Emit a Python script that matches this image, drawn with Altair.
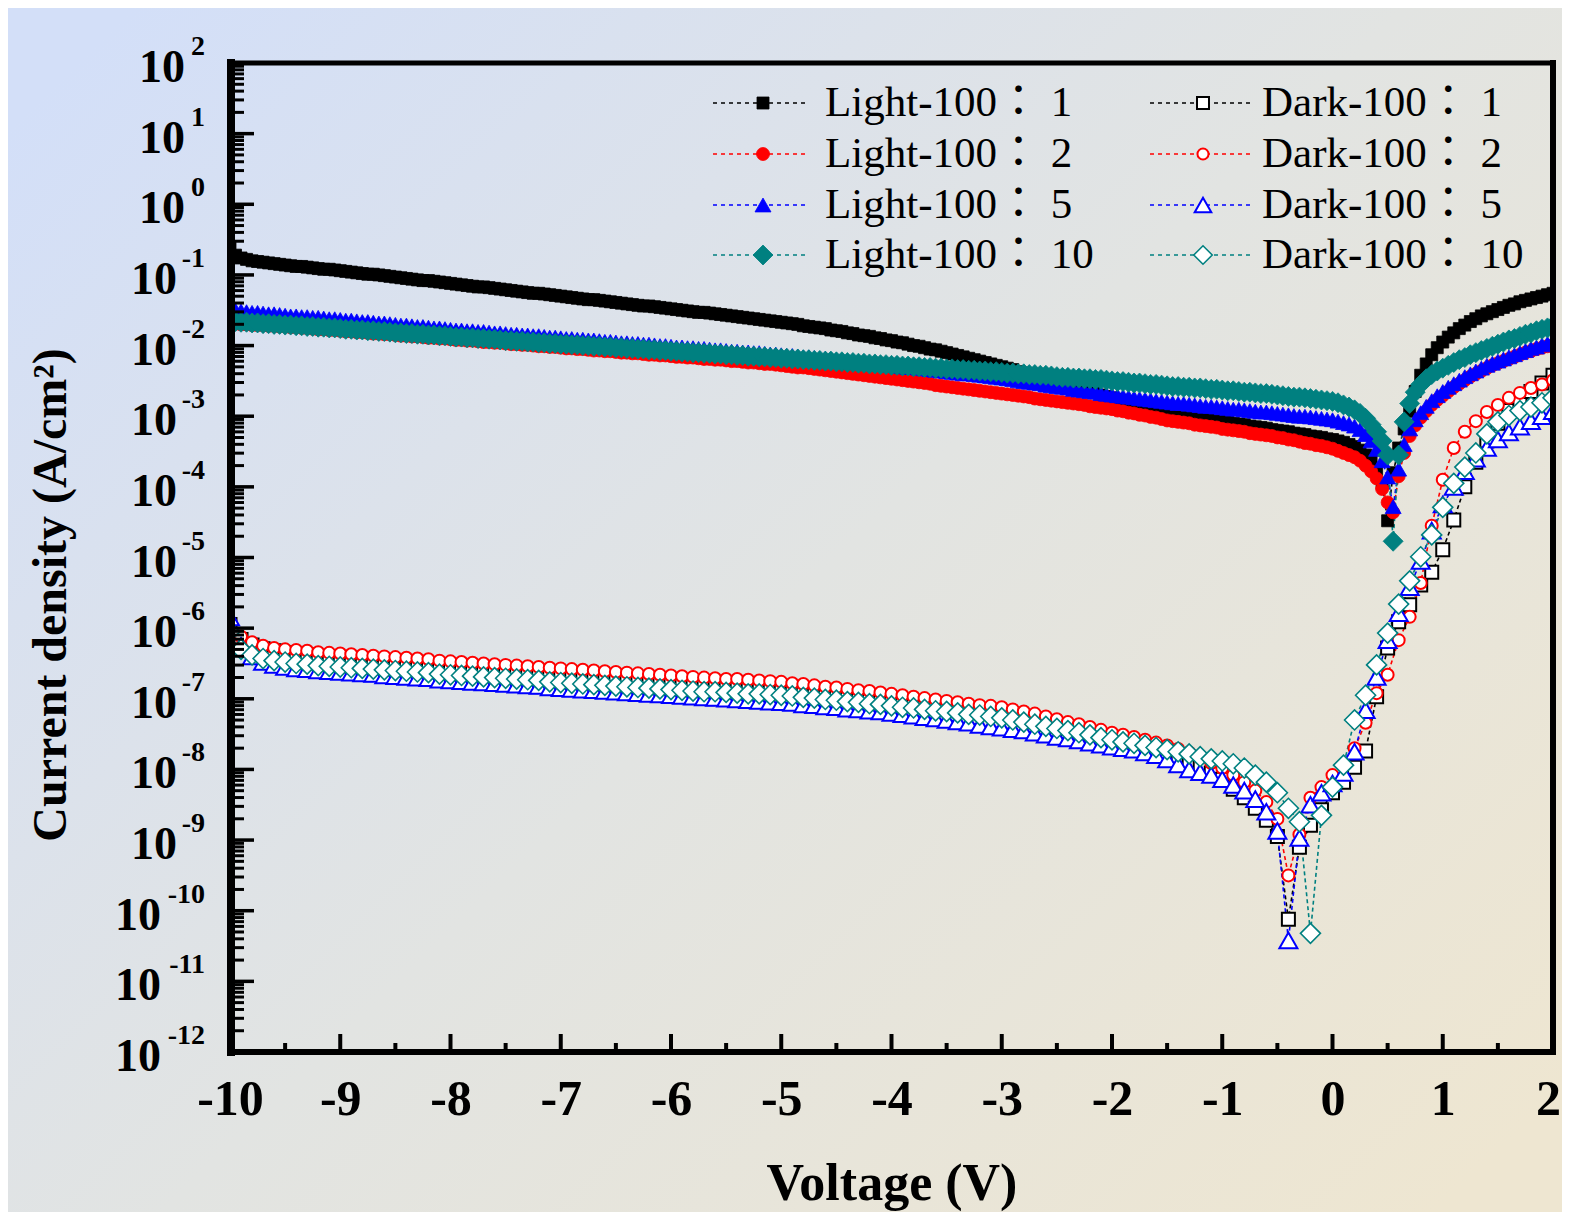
import altair as alt
import pandas as pd

# ---------------- data (log10 of current density, A/cm^2) ----------------
V_LIGHT = [round(-10 + 0.05 * i, 2) for i in range(241)]
V_DARK = [round(-10 + 0.1 * i, 1) for i in range(121)]

LOG_LIGHT_1 = [
    -0.62,
    -0.72, -0.76, -0.78, -0.80, -0.81, -0.82, -0.83, -0.84, -0.85, -0.86,
    -0.87, -0.88, -0.88, -0.89, -0.90, -0.91, -0.92, -0.92, -0.93, -0.94,
    -0.95, -0.96, -0.97, -0.98, -0.99, -0.99, -1.00, -1.01, -1.02, -1.03,
    -1.04, -1.05, -1.06, -1.07, -1.08, -1.08, -1.09, -1.10, -1.11, -1.12,
    -1.13, -1.14, -1.15, -1.16, -1.17, -1.17, -1.18, -1.19, -1.20, -1.21,
    -1.22, -1.23, -1.24, -1.25, -1.26, -1.26, -1.27, -1.28, -1.29, -1.30,
    -1.31, -1.32, -1.33, -1.34, -1.35, -1.35, -1.36, -1.37, -1.38, -1.39,
    -1.40, -1.41, -1.42, -1.43, -1.44, -1.44, -1.45, -1.46, -1.47, -1.48,
    -1.49, -1.50, -1.51, -1.52, -1.53, -1.53, -1.54, -1.55, -1.56, -1.57,
    -1.58, -1.59, -1.60, -1.61, -1.62, -1.63, -1.64, -1.65, -1.66, -1.67,
    -1.68, -1.69, -1.70, -1.72, -1.73, -1.74, -1.75, -1.76, -1.78, -1.79,
    -1.80, -1.82, -1.83, -1.85, -1.86, -1.87, -1.89, -1.90, -1.92, -1.93,
    -1.95, -1.96, -1.98, -2.00, -2.01, -2.03, -2.05, -2.06, -2.08, -2.10,
    -2.12, -2.14, -2.16, -2.18, -2.20, -2.22, -2.24, -2.26, -2.28, -2.30,
    -2.32, -2.34, -2.37, -2.39, -2.41, -2.43, -2.45, -2.48, -2.50, -2.52,
    -2.54, -2.56, -2.59, -2.61, -2.63, -2.65, -2.67, -2.70, -2.72, -2.74,
    -2.76, -2.78, -2.80, -2.82, -2.84, -2.85, -2.87, -2.89, -2.91, -2.93,
    -2.94, -2.96, -2.97, -2.99, -3.00, -3.01, -3.03, -3.04, -3.06, -3.07,
    -3.08, -3.10, -3.11, -3.12, -3.14, -3.15, -3.16, -3.17, -3.19, -3.20,
    -3.21, -3.22, -3.24, -3.25, -3.26, -3.28, -3.29, -3.30, -3.32, -3.33,
    -3.35, -3.37, -3.40, -3.43, -3.48, -3.55, -3.64, -3.76, -3.95, -4.48,
    -3.80, -3.45, -3.18, -2.93, -2.65, -2.42, -2.26, -2.13, -2.03, -1.95,
    -1.88, -1.82, -1.76, -1.71, -1.66, -1.62, -1.58, -1.55, -1.52, -1.49,
    -1.46, -1.43, -1.41, -1.38, -1.36, -1.34, -1.32, -1.30, -1.28, -1.26,
]

LOG_LIGHT_2 = [
    -1.69,
    -1.69, -1.70, -1.70, -1.71, -1.71, -1.71, -1.72, -1.72, -1.73, -1.73,
    -1.74, -1.74, -1.75, -1.75, -1.76, -1.77, -1.77, -1.78, -1.78, -1.79,
    -1.80, -1.80, -1.81, -1.81, -1.82, -1.83, -1.83, -1.84, -1.84, -1.85,
    -1.86, -1.86, -1.87, -1.87, -1.88, -1.89, -1.89, -1.90, -1.90, -1.91,
    -1.92, -1.92, -1.93, -1.93, -1.94, -1.95, -1.95, -1.96, -1.96, -1.97,
    -1.98, -1.98, -1.99, -1.99, -2.00, -2.01, -2.01, -2.02, -2.02, -2.03,
    -2.04, -2.04, -2.05, -2.05, -2.06, -2.07, -2.07, -2.08, -2.08, -2.09,
    -2.10, -2.10, -2.11, -2.11, -2.12, -2.13, -2.13, -2.14, -2.14, -2.15,
    -2.16, -2.16, -2.17, -2.17, -2.18, -2.19, -2.19, -2.20, -2.20, -2.21,
    -2.22, -2.22, -2.23, -2.24, -2.24, -2.25, -2.26, -2.26, -2.27, -2.28,
    -2.29, -2.30, -2.31, -2.31, -2.32, -2.33, -2.34, -2.35, -2.36, -2.37,
    -2.38, -2.39, -2.40, -2.41, -2.42, -2.43, -2.44, -2.45, -2.46, -2.47,
    -2.48, -2.49, -2.50, -2.51, -2.52, -2.53, -2.54, -2.56, -2.57, -2.58,
    -2.59, -2.60, -2.61, -2.62, -2.63, -2.64, -2.65, -2.66, -2.67, -2.68,
    -2.69, -2.70, -2.71, -2.72, -2.73, -2.75, -2.76, -2.77, -2.78, -2.79,
    -2.80, -2.81, -2.82, -2.83, -2.84, -2.86, -2.87, -2.88, -2.89, -2.90,
    -2.92, -2.93, -2.95, -2.96, -2.98, -2.99, -3.01, -3.02, -3.04, -3.06,
    -3.07, -3.08, -3.09, -3.10, -3.12, -3.13, -3.14, -3.15, -3.16, -3.18,
    -3.19, -3.20, -3.21, -3.22, -3.24, -3.25, -3.26, -3.27, -3.28, -3.30,
    -3.31, -3.33, -3.34, -3.36, -3.38, -3.39, -3.41, -3.42, -3.44, -3.46,
    -3.49, -3.52, -3.55, -3.58, -3.63, -3.70, -3.78, -3.88, -4.03, -4.22,
    -4.36, -3.85, -3.52, -3.28, -3.13, -3.02, -2.93, -2.84, -2.77, -2.71,
    -2.65, -2.59, -2.54, -2.49, -2.44, -2.40, -2.36, -2.32, -2.28, -2.25,
    -2.22, -2.19, -2.16, -2.13, -2.10, -2.08, -2.05, -2.03, -2.01, -1.99,
]

LOG_LIGHT_5 = [
    -1.48,
    -1.50, -1.51, -1.52, -1.53, -1.53, -1.54, -1.55, -1.55, -1.56, -1.57,
    -1.58, -1.58, -1.59, -1.59, -1.60, -1.60, -1.61, -1.62, -1.62, -1.63,
    -1.64, -1.64, -1.65, -1.66, -1.66, -1.67, -1.68, -1.68, -1.69, -1.70,
    -1.71, -1.71, -1.72, -1.73, -1.73, -1.74, -1.75, -1.75, -1.76, -1.77,
    -1.78, -1.78, -1.79, -1.79, -1.80, -1.80, -1.81, -1.82, -1.82, -1.83,
    -1.84, -1.84, -1.85, -1.85, -1.86, -1.86, -1.87, -1.88, -1.88, -1.89,
    -1.90, -1.90, -1.91, -1.91, -1.92, -1.92, -1.93, -1.94, -1.94, -1.95,
    -1.96, -1.96, -1.97, -1.97, -1.98, -1.98, -1.99, -2.00, -2.00, -2.01,
    -2.02, -2.02, -2.03, -2.03, -2.04, -2.04, -2.05, -2.06, -2.06, -2.07,
    -2.08, -2.08, -2.09, -2.09, -2.10, -2.10, -2.11, -2.12, -2.12, -2.13,
    -2.14, -2.14, -2.15, -2.16, -2.16, -2.17, -2.18, -2.18, -2.19, -2.20,
    -2.21, -2.22, -2.22, -2.23, -2.24, -2.25, -2.26, -2.26, -2.27, -2.28,
    -2.29, -2.30, -2.31, -2.31, -2.32, -2.33, -2.34, -2.35, -2.36, -2.37,
    -2.38, -2.39, -2.40, -2.40, -2.41, -2.42, -2.43, -2.44, -2.45, -2.46,
    -2.47, -2.48, -2.50, -2.51, -2.52, -2.53, -2.54, -2.56, -2.57, -2.58,
    -2.59, -2.60, -2.62, -2.63, -2.64, -2.65, -2.66, -2.68, -2.69, -2.70,
    -2.71, -2.72, -2.73, -2.74, -2.75, -2.76, -2.77, -2.78, -2.79, -2.80,
    -2.81, -2.82, -2.82, -2.83, -2.84, -2.85, -2.86, -2.86, -2.87, -2.88,
    -2.89, -2.90, -2.90, -2.91, -2.92, -2.93, -2.94, -2.94, -2.95, -2.96,
    -2.97, -2.98, -2.99, -3.00, -3.00, -3.01, -3.02, -3.03, -3.04, -3.05,
    -3.07, -3.09, -3.11, -3.14, -3.19, -3.26, -3.35, -3.47, -3.63, -3.86,
    -4.28, -3.75, -3.40, -3.18, -3.05, -2.95, -2.86, -2.78, -2.71, -2.65,
    -2.59, -2.54, -2.49, -2.44, -2.40, -2.36, -2.32, -2.28, -2.25, -2.22,
    -2.19, -2.16, -2.13, -2.10, -2.07, -2.04, -2.02, -1.99, -1.97, -1.94,
]

LOG_LIGHT_10 = [
    -1.66,
    -1.66, -1.67, -1.67, -1.68, -1.68, -1.69, -1.69, -1.70, -1.70, -1.71,
    -1.71, -1.72, -1.72, -1.73, -1.73, -1.74, -1.74, -1.75, -1.75, -1.76,
    -1.77, -1.77, -1.78, -1.78, -1.79, -1.79, -1.80, -1.80, -1.81, -1.82,
    -1.82, -1.83, -1.83, -1.84, -1.84, -1.85, -1.85, -1.86, -1.86, -1.87,
    -1.88, -1.88, -1.89, -1.89, -1.90, -1.90, -1.91, -1.91, -1.92, -1.93,
    -1.93, -1.94, -1.94, -1.95, -1.95, -1.96, -1.96, -1.97, -1.97, -1.98,
    -1.98, -1.99, -1.99, -2.00, -2.00, -2.01, -2.01, -2.02, -2.02, -2.03,
    -2.03, -2.04, -2.04, -2.05, -2.05, -2.06, -2.06, -2.07, -2.07, -2.08,
    -2.08, -2.09, -2.09, -2.10, -2.10, -2.11, -2.11, -2.12, -2.12, -2.13,
    -2.13, -2.14, -2.14, -2.15, -2.15, -2.16, -2.16, -2.17, -2.17, -2.18,
    -2.18, -2.19, -2.19, -2.20, -2.20, -2.21, -2.21, -2.22, -2.22, -2.23,
    -2.23, -2.24, -2.24, -2.25, -2.25, -2.26, -2.26, -2.27, -2.27, -2.28,
    -2.28, -2.29, -2.29, -2.30, -2.30, -2.31, -2.31, -2.32, -2.32, -2.33,
    -2.33, -2.34, -2.34, -2.35, -2.35, -2.36, -2.36, -2.37, -2.37, -2.38,
    -2.39, -2.39, -2.40, -2.40, -2.41, -2.41, -2.42, -2.42, -2.43, -2.44,
    -2.45, -2.45, -2.46, -2.46, -2.47, -2.47, -2.48, -2.48, -2.49, -2.50,
    -2.51, -2.51, -2.52, -2.53, -2.53, -2.54, -2.55, -2.55, -2.56, -2.57,
    -2.58, -2.58, -2.59, -2.59, -2.60, -2.60, -2.61, -2.62, -2.62, -2.63,
    -2.64, -2.64, -2.65, -2.66, -2.66, -2.67, -2.68, -2.68, -2.69, -2.70,
    -2.71, -2.72, -2.73, -2.73, -2.74, -2.75, -2.76, -2.77, -2.78, -2.79,
    -2.81, -2.84, -2.87, -2.91, -2.96, -3.03, -3.12, -3.22, -3.35, -3.55,
    -4.77, -3.55, -3.08, -2.82, -2.66, -2.55, -2.47, -2.41, -2.36, -2.32,
    -2.28, -2.24, -2.20, -2.17, -2.13, -2.10, -2.07, -2.04, -2.01, -1.98,
    -1.95, -1.92, -1.90, -1.87, -1.84, -1.82, -1.79, -1.77, -1.75, -1.72,
]

LOG_DARK_1 = [
    -5.95, -6.16, -6.24, -6.29, -6.32, -6.35, -6.37, -6.38, -6.40, -6.41, -6.42,
    -6.43, -6.44, -6.45, -6.46, -6.47, -6.48, -6.49, -6.50, -6.52, -6.53,
    -6.54, -6.55, -6.56, -6.57, -6.58, -6.59, -6.60, -6.61, -6.63, -6.64,
    -6.65, -6.66, -6.67, -6.68, -6.69, -6.70, -6.71, -6.72, -6.74, -6.75,
    -6.76, -6.77, -6.78, -6.79, -6.80, -6.81, -6.82, -6.83, -6.85, -6.86,
    -6.87, -6.89, -6.90, -6.92, -6.93, -6.95, -6.96, -6.98, -7.00, -7.02,
    -7.04, -7.06, -7.08, -7.10, -7.12, -7.14, -7.16, -7.18, -7.20, -7.22,
    -7.25, -7.29, -7.32, -7.36, -7.39, -7.42, -7.46, -7.49, -7.53, -7.56,
    -7.59, -7.62, -7.67, -7.72, -7.78, -7.84, -7.90, -7.96, -8.05, -8.14,
    -8.28, -8.40, -8.55, -8.72, -8.95, -10.12, -9.10, -8.79, -8.57, -8.33,
    -8.18, -7.97, -7.74, -6.97, -6.28, -5.91, -5.67, -5.39, -5.21, -4.89,
    -4.47, -4.00, -3.65, -3.35, -3.10, -2.92, -2.78, -2.65, -2.53, -2.42,
]

LOG_DARK_2 = [
    -5.92, -6.12, -6.20, -6.25, -6.28, -6.30, -6.31, -6.32, -6.34, -6.35, -6.36,
    -6.37, -6.38, -6.39, -6.40, -6.41, -6.42, -6.43, -6.44, -6.46, -6.47,
    -6.48, -6.49, -6.50, -6.51, -6.52, -6.53, -6.54, -6.55, -6.56, -6.57,
    -6.58, -6.59, -6.60, -6.61, -6.62, -6.63, -6.64, -6.65, -6.66, -6.67,
    -6.68, -6.69, -6.70, -6.71, -6.72, -6.72, -6.73, -6.74, -6.75, -6.76,
    -6.78, -6.79, -6.81, -6.83, -6.84, -6.86, -6.88, -6.89, -6.91, -6.93,
    -6.95, -6.97, -6.99, -7.01, -7.03, -7.05, -7.07, -7.09, -7.10, -7.12,
    -7.15, -7.18, -7.21, -7.25, -7.29, -7.33, -7.36, -7.40, -7.44, -7.48,
    -7.51, -7.54, -7.58, -7.62, -7.66, -7.71, -7.76, -7.84, -7.91, -7.98,
    -8.08, -8.18, -8.30, -8.46, -8.70, -9.50, -8.92, -8.40, -8.25, -8.08,
    -7.95, -7.70, -7.34, -6.92, -6.66, -6.17, -5.84, -5.36, -4.55, -3.90,
    -3.45, -3.22, -3.07, -2.94, -2.84, -2.74, -2.67, -2.60, -2.55, -2.49,
]

LOG_DARK_5 = [
    -5.85, -6.25, -6.40, -6.48, -6.52, -6.55, -6.57, -6.58, -6.60, -6.61, -6.62,
    -6.63, -6.64, -6.65, -6.67, -6.68, -6.69, -6.70, -6.71, -6.73, -6.74,
    -6.75, -6.76, -6.77, -6.78, -6.79, -6.80, -6.81, -6.82, -6.84, -6.85,
    -6.86, -6.87, -6.88, -6.89, -6.90, -6.91, -6.92, -6.93, -6.94, -6.95,
    -6.96, -6.97, -6.98, -6.99, -7.00, -7.01, -7.02, -7.03, -7.04, -7.05,
    -7.06, -7.08, -7.09, -7.11, -7.12, -7.14, -7.15, -7.17, -7.18, -7.20,
    -7.22, -7.24, -7.26, -7.28, -7.30, -7.32, -7.34, -7.37, -7.39, -7.41,
    -7.43, -7.45, -7.48, -7.51, -7.54, -7.56, -7.59, -7.62, -7.65, -7.68,
    -7.70, -7.72, -7.76, -7.80, -7.86, -7.93, -8.00, -8.04, -8.08, -8.14,
    -8.22, -8.30, -8.42, -8.60, -8.87, -10.42, -8.97, -8.50, -8.33, -8.20,
    -8.05, -7.75, -7.16, -6.69, -6.17, -5.79, -5.42, -5.05, -4.62, -4.25,
    -4.00, -3.78, -3.60, -3.45, -3.33, -3.23, -3.15, -3.07, -3.00, -2.93,
]

LOG_DARK_10 = [
    -6.05, -6.30, -6.38, -6.43, -6.46, -6.48, -6.50, -6.51, -6.53, -6.54, -6.55,
    -6.56, -6.57, -6.58, -6.59, -6.60, -6.61, -6.62, -6.63, -6.65, -6.66,
    -6.67, -6.68, -6.69, -6.70, -6.71, -6.72, -6.73, -6.74, -6.76, -6.77,
    -6.78, -6.79, -6.80, -6.81, -6.82, -6.83, -6.84, -6.85, -6.86, -6.87,
    -6.88, -6.89, -6.90, -6.90, -6.91, -6.92, -6.93, -6.93, -6.94, -6.95,
    -6.96, -6.98, -6.99, -7.01, -7.02, -7.04, -7.05, -7.07, -7.08, -7.10,
    -7.12, -7.13, -7.15, -7.17, -7.18, -7.20, -7.22, -7.23, -7.25, -7.27,
    -7.30, -7.33, -7.36, -7.39, -7.42, -7.45, -7.48, -7.51, -7.55, -7.58,
    -7.61, -7.63, -7.66, -7.69, -7.72, -7.75, -7.78, -7.82, -7.85, -7.88,
    -7.92, -7.98, -8.08, -8.18, -8.33, -8.55, -8.74, -10.32, -8.65, -8.25,
    -7.94, -7.30, -6.95, -6.52, -6.07, -5.66, -5.33, -4.99, -4.68, -4.29,
    -3.95, -3.72, -3.52, -3.25, -3.08, -2.99, -2.92, -2.87, -2.81, -2.74,
]

LABELS_LIGHT = ["Light-100： 1", "Light-100： 2", "Light-100： 5", "Light-100： 10"]
LABELS_DARK = ["Dark-100： 1", "Dark-100： 2", "Dark-100： 5", "Dark-100： 10"]
COLORS = ["#000000", "#ff0000", "#0000ff", "#008080"]
SHAPES = ["square", "circle", "triangle-up", "diamond"]

X_TICKS = list(range(-10, 3))
X_MINOR = [t + 0.5 for t in range(-10, 2)]
Y_EXPONENTS = list(range(2, -13, -1))
Y_MINOR = [m * 10.0 ** e for e in range(-12, 2) for m in range(2, 10)]

for arr in (LOG_LIGHT_1, LOG_LIGHT_2, LOG_LIGHT_5, LOG_LIGHT_10):
    assert len(arr) == len(V_LIGHT), len(arr)
for arr in (LOG_DARK_1, LOG_DARK_2, LOG_DARK_5, LOG_DARK_10):
    assert len(arr) == len(V_DARK), len(arr)

# ---------------- layout / style ----------------
W, H = 1323, 989
PAD = {"left": 222, "top": 55, "right": 9, "bottom": 160}
SERIF = "Liberation Serif, Times New Roman, serif"
LEGFONT = "Liberation Serif, Noto Sans CJK TC, serif"

LIGHT_SIZES = [144, 169, 256, 400]
DARK_SIZES = [169, 144, 324, 400]
DARK_SW = [2, 2, 2, 1.6]

ONE = pd.DataFrame({"k": [0]})

x_scale = alt.Scale(domain=[-10, 2], nice=False, zero=False)
y_scale = alt.Scale(type="log", domain=[1e-12, 1e2], nice=False)
x_axis = alt.Axis(values=X_TICKS, labelExpr="'' + datum.value", ticks=False, domain=False,
                  grid=False, labelFont=SERIF, labelFontSize=50, labelFontWeight="bold",
                  labelColor="black", labelPadding=22, labelFlush=False, labelOverlap=False,
                  labelOffset={"condition": {"test": "datum.value === 2", "value": -5}, "value": 0},
                  title=None, zindex=2)


def xenc():
    return alt.X("V:Q", scale=x_scale, axis=x_axis)


def yenc():
    return alt.Y("J:Q", scale=y_scale, axis=None)


def sdf(v, logs):
    return pd.DataFrame({"V": v, "J": [10.0 ** a for a in logs]})


layers = []

# background gradient
grad = {"gradient": "linear", "x1": 0, "y1": 0.1, "x2": 1, "y2": 0.9,
        "stops": [{"offset": 0, "color": "#d3dff8"},
                  {"offset": 0.5, "color": "#e2e4e2"},
                  {"offset": 1, "color": "#eee6d1"}]}
layers.append(alt.Chart(ONE).mark_rect(fill=grad, strokeWidth=0).encode(
    x=alt.value(-PAD["left"]), x2=alt.value(W + PAD["right"]),
    y=alt.value(-PAD["top"]), y2=alt.value(H + PAD["bottom"])))

series = []
for i, lg in enumerate([LOG_LIGHT_1, LOG_LIGHT_2, LOG_LIGHT_5, LOG_LIGHT_10]):
    series.append(dict(df=sdf(V_LIGHT, lg), color=COLORS[i], shape=SHAPES[i],
                       size=LIGHT_SIZES[i], fill=COLORS[i], sw=0.8))
for i, lg in enumerate([LOG_DARK_1, LOG_DARK_2, LOG_DARK_5, LOG_DARK_10]):
    series.append(dict(df=sdf(V_DARK, lg), color=COLORS[i], shape=SHAPES[i],
                       size=DARK_SIZES[i], fill="white", sw=DARK_SW[i]))

# dashed connecting lines
for s in series:
    layers.append(alt.Chart(s["df"]).mark_line(
        stroke=s["color"], strokeWidth=1.6, strokeDash=[4, 3], clip=True).encode(
        x=xenc(), y=yenc(), order="V:Q"))
# markers
for s in series:
    layers.append(alt.Chart(s["df"]).mark_point(
        shape=s["shape"], size=s["size"], filled=True, fill=s["fill"], stroke=s["color"],
        strokeWidth=s["sw"], opacity=1, clip=True).encode(x=xenc(), y=yenc()))

# inward ticks
layers.append(alt.Chart(pd.DataFrame({"V": X_TICKS})).mark_rule(color="black", strokeWidth=4).encode(
    x=xenc(), y=alt.value(H), y2=alt.value(H - 18)))
layers.append(alt.Chart(pd.DataFrame({"V": X_MINOR})).mark_rule(color="black", strokeWidth=4).encode(
    x=xenc(), y=alt.value(H), y2=alt.value(H - 9)))
layers.append(alt.Chart(pd.DataFrame({"J": [10.0 ** e for e in Y_EXPONENTS]})).mark_rule(
    color="black", strokeWidth=3.5).encode(y=yenc(), x=alt.value(0), x2=alt.value(24)))
layers.append(alt.Chart(pd.DataFrame({"J": Y_MINOR})).mark_rule(
    color="black", strokeWidth=3).encode(y=yenc(), x=alt.value(0), x2=alt.value(14)))

# frame
layers.append(alt.Chart(ONE).mark_rule(color="black", strokeWidth=5, strokeCap="square").encode(
    x=alt.value(0), x2=alt.value(W), y=alt.value(0)))
layers.append(alt.Chart(ONE).mark_rule(color="black", strokeWidth=6, strokeCap="square").encode(
    x=alt.value(W), y=alt.value(0), y2=alt.value(H)))
layers.append(alt.Chart(ONE).mark_rule(color="black", strokeWidth=6, strokeCap="square").encode(
    x=alt.value(0), x2=alt.value(W), y=alt.value(H)))
layers.append(alt.Chart(ONE).mark_rule(color="black", strokeWidth=8, strokeCap="square").encode(
    x=alt.value(1), y=alt.value(0), y2=alt.value(H)))

# y tick labels: "10" + superscript exponent
groups = [([e for e in Y_EXPONENTS if e >= 0], -45),
          ([e for e in Y_EXPONENTS if -10 < e < 0], -53),
          ([e for e in Y_EXPONENTS if e <= -10], -69)]
for exps, xr in groups:
    d = pd.DataFrame({"J": [10.0 ** e for e in exps], "exp": [str(e) for e in exps]})
    layers.append(alt.Chart(d).mark_text(
        text="10", align="right", baseline="middle", dy=5, font=SERIF, fontSize=46,
        fontWeight="bold", color="black").encode(x=alt.value(xr), y=yenc()))
    layers.append(alt.Chart(d).mark_text(
        align="right", baseline="middle", dy=-16, font=SERIF, fontSize=28,
        fontWeight="bold", color="black").encode(x=alt.value(-25), y=yenc(), text="exp:N"))

# axis titles
layers.append(alt.Chart(ONE).mark_text(
    text="Current density (A/cm²)", angle=270, align="center", baseline="middle",
    font=SERIF, fontSize=48, fontWeight="bold", color="black").encode(
    x=alt.value(-178), y=alt.value(532)))
layers.append(alt.Chart(ONE).mark_text(
    text="Voltage (V)", align="center", baseline="alphabetic",
    font=SERIF, fontSize=52, fontWeight="bold", color="black").encode(
    x=alt.value(662), y=alt.value(1137)))

# legend (two columns, four rows)
ROW_Y = [40, 91, 142, 192]
COLS = [dict(x0=483, x1=575, xm=533, xt=595, labels=LABELS_LIGHT, light=True),
        dict(x0=920, x1=1020, xm=973, xt=1032, labels=LABELS_DARK, light=False)]
for col in COLS:
    for i in range(4):
        yy = ROW_Y[i]
        c = COLORS[i]
        layers.append(alt.Chart(ONE).mark_rule(stroke=c, strokeWidth=1.6, strokeDash=[4, 4]).encode(
            x=alt.value(col["x0"]), x2=alt.value(col["x1"]), y=alt.value(yy)))
        if col["light"]:
            mk = alt.Chart(ONE).mark_point(shape=SHAPES[i], size=LIGHT_SIZES[i], filled=True,
                                           fill=c, stroke=c, strokeWidth=0.8, opacity=1)
        else:
            mk = alt.Chart(ONE).mark_point(shape=SHAPES[i], size=DARK_SIZES[i] * 0.85, filled=True,
                                           fill="white", stroke=c, strokeWidth=DARK_SW[i], opacity=1)
        layers.append(mk.encode(x=alt.value(col["xm"]), y=alt.value(yy)))
        layers.append(alt.Chart(ONE).mark_text(
            text=col["labels"][i], align="left", baseline="middle", font=LEGFONT,
            fontSize=43, color="black").encode(x=alt.value(col["xt"]), y=alt.value(yy)))

chart = alt.layer(*layers).properties(
    width=W, height=H, padding=PAD, autosize=alt.AutoSizeParams(type="none"),
    background="#e2e4e4",
).configure_view(stroke=None)

chart.save("out.html", embed_options={"renderer": "svg", "actions": False})
